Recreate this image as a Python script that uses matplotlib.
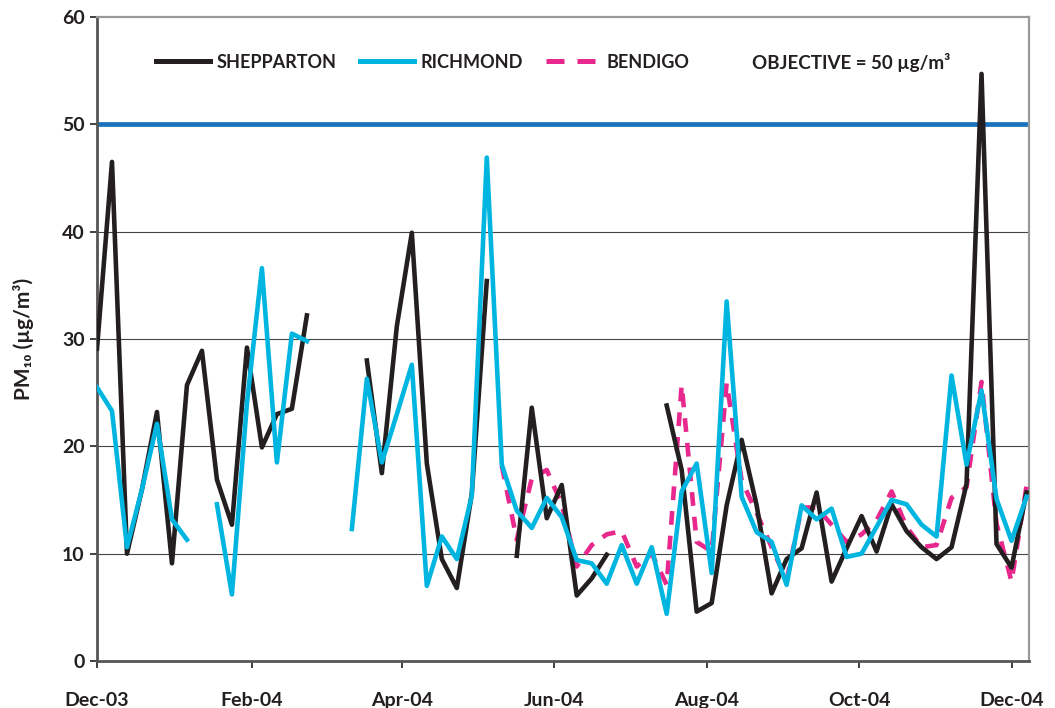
import numpy as np
import matplotlib
matplotlib.use("Agg")
import matplotlib.pyplot as plt
import matplotlib.dates as mdates
from matplotlib.lines import Line2D

nan = np.nan

# ----------------------- data ---------------------------
START = np.datetime64("2003-12-01")
STEP_DAYS = 6                      # one sample every 6 days

shepparton = [29.1, 46.5, 10.0, 16.0, 23.2, 9.1, 25.7, 28.9, 16.9, 12.7,
              29.2, 19.9, 23.0, 23.5, 32.2, nan, nan, nan, 28.0, 17.5,
              31.2, 39.9, 18.4, 9.5, 6.8, 15.6, 35.4, nan, 9.8, 23.6,
              13.3, 16.4, 6.1, 7.7, 9.9, nan, nan, nan, 23.8, 17.8,
              4.6, 5.4, 14.5, 20.6, 14.5, 6.3, 9.5, 10.5, 15.7, 7.4,
              10.5, 13.5, 10.2, 14.6, 12.1, 10.6, 9.5, 10.6, 16.5, 54.7,
              10.9, 8.7, 15.7]

richmond = [25.5, 23.3, 10.6, 16.0, 22.1, 13.2, 11.3, nan, 14.6, 6.2,
            24.0, 36.6, 18.5, 30.5, 29.8, nan, nan, 12.3, 26.3, 18.5,
            23.0, 27.6, 7.0, 11.6, 9.5, 15.4, 46.9, 18.3, 14.0, 12.4,
            15.2, 13.4, 9.4, 9.1, 7.2, 10.8, 7.2, 10.6, 4.4, 15.8,
            18.4, 8.2, 33.5, 15.3, 12.0, 11.1, 7.1, 14.5, 13.2, 14.2,
            9.7, 10.0, 12.5, 15.0, 14.6, 12.7, 11.6, 26.6, 18.3, 25.2,
            15.1, 11.2, 15.3]

bendigo = [nan] * 27 + [18.2, 11.3, 17.0, 17.8, 14.6, 8.8, 10.8, 11.8, 12.1,
                        8.8, 10.0, 7.1, 25.7, 11.1, 10.2, 25.9, 16.8, 13.8,
                        10.6, 7.5, 14.3, 14.3, 12.7, 11.1, 11.8, 13.1, 15.8,
                        12.5, 10.6, 10.8, 15.2, 16.2, 26.0, 12.8, 7.4, 16.3]

OBJECTIVE = 50
YTICKS = [0, 10, 20, 30, 40, 50, 60]
# ---------------------------------------------------------

C_SHEP = "#231f20"
C_RICH = "#00b5e0"
C_BEND = "#e8288c"
C_OBJ = "#1b72bd"
LW = 3.3
DASH = (3.0, 2.4)

plt.rcParams["font.family"] = ["Lato", "DejaVu Sans"]
plt.rcParams["font.weight"] = "bold"

dates = START + np.arange(len(shepparton)) * np.timedelta64(STEP_DAYS, "D")
dates = dates.astype("datetime64[D]").astype(object)

fig = plt.figure(figsize=(10.55, 7.08), dpi=100)
ax = fig.add_axes([97 / 1055, 47 / 708, 932 / 1055, 644 / 708])

ax.set_ylim(0, 60)
ax.set_xlim(np.datetime64("2003-12-01").astype(object),
            np.datetime64("2004-12-08").astype(object))

for y in YTICKS[1:-1]:
    ax.axhline(y, color="#444444", lw=0.8, zorder=1)

ax.axhline(OBJECTIVE, color=C_OBJ, lw=3.4, zorder=2)

ax.plot(dates, bendigo, color=C_BEND, lw=LW, dashes=DASH, zorder=3,
        dash_capstyle="butt")
ax.plot(dates, shepparton, color=C_SHEP, lw=LW, zorder=4)
ax.plot(dates, richmond, color=C_RICH, lw=LW, zorder=5)

ax.set_yticks(YTICKS)
ax.xaxis.set_major_locator(mdates.MonthLocator(bymonth=[12, 2, 4, 6, 8, 10]))
ax.xaxis.set_major_formatter(mdates.DateFormatter("%b-%y"))
ax.tick_params(axis="y", direction="out", length=5, width=1.2, pad=4,
               labelsize=14, colors="#231f20")
ax.tick_params(axis="x", direction="out", length=5, width=1.2, pad=17,
               labelsize=14, colors="#231f20")
for lab in ax.get_xticklabels() + ax.get_yticklabels():
    lab.set_fontweight("bold")

for side in ("left", "bottom"):
    ax.spines[side].set_color("#555555")
    ax.spines[side].set_linewidth(2)
for side in ("top", "right"):
    ax.spines[side].set_color("#999999")
    ax.spines[side].set_linewidth(1.6)

ax.set_ylabel("PM₁₀ (µg/m³)", fontsize=15, fontweight="bold", labelpad=20,
              color="#231f20")

handles = [
    Line2D([], [], color=C_SHEP, lw=3.6),
    Line2D([], [], color=C_RICH, lw=3.6),
    Line2D([], [], color=C_BEND, lw=3.6, dashes=(3.6, 2.6)),
]
leg = ax.legend(handles, ["SHEPPARTON", "RICHMOND", "BENDIGO"],
                loc="center left", bbox_to_anchor=(147 / 1055, 1 - 62 / 708),
                bbox_transform=fig.transFigure, ncol=3, frameon=False,
                handlelength=3.0, handletextpad=0.35, columnspacing=1.3,
                prop={"size": 13, "weight": "bold"}, borderpad=0)
for t in leg.get_texts():
    t.set_color("#231f20")

fig.text(752 / 1055, 1 - 62 / 708, "OBJECTIVE = 50 µg/m³", fontsize=13.5,
         fontweight="bold", va="center", ha="left", color="#231f20")

fig.savefig("out.png", dpi=100)
